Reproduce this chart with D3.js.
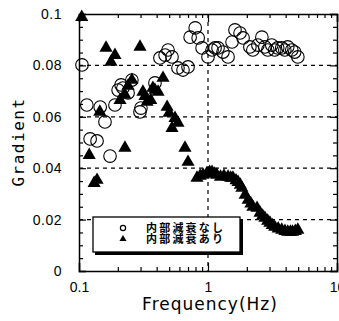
<!DOCTYPE html>
<html><head><meta charset="utf-8">
<script src="https://cdn.jsdelivr.net/npm/d3@7/dist/d3.min.js"></script>
<style>
html,body{margin:0;padding:0;background:#fff;}
svg{display:block;}
text{fill:#000;}
</style></head>
<body>
<svg id="c" width="339" height="321"></svg>
<script>
// ---- data ----
const seriesNames = ["内部減衰なし", "内部減衰あり"];
const circleFreq = [0.1055,0.115,0.122,0.138,0.146,0.159,0.174,0.190,0.201,0.212,0.219,0.240,0.257,0.297,0.302,0.388,0.424,0.465,0.490,0.526,0.585,0.640,0.700,0.727,0.796,0.839,0.900,1.00,1.075,1.134,1.196,1.306,1.430,1.536,1.619,1.772,1.870,2.112,2.227,2.437,2.616,2.759,2.908,3.12,3.29,3.47,3.73,3.94,4.15,4.46,4.70,4.97];
const circleGrad = [0.0802,0.0646,0.0514,0.0506,0.0638,0.0580,0.0447,0.0646,0.0704,0.0724,0.0712,0.0693,0.0743,0.0619,0.0634,0.0732,0.0829,0.0840,0.0860,0.0833,0.0790,0.0782,0.0794,0.0910,0.0946,0.0907,0.0868,0.0833,0.0860,0.0868,0.0868,0.0852,0.0833,0.0891,0.0938,0.0926,0.0907,0.0872,0.0860,0.0879,0.0910,0.0872,0.0860,0.0879,0.0860,0.0868,0.0868,0.0860,0.0872,0.0860,0.0852,0.0833];
const triFreq = [0.105,0.120,0.131,0.138,0.145,0.162,0.177,0.190,0.208,0.227,0.227,0.240,0.257,0.297,0.313,0.325,0.337,0.360,0.374,0.388,0.410,0.448,0.482,0.500,0.526,0.555,0.585,0.663,0.700,0.822,0.870,0.915,0.98,1.03,1.075,1.12,1.17,1.25,1.33,1.43,1.50,1.56,1.65,1.71,1.78,1.83,1.94,2.05,2.15,2.23,2.40,2.53,2.65,2.76,2.90,3.02,3.15,3.29,3.50,3.73,3.95,4.15,4.35,4.52,4.75,4.97];
const triGrad = [0.0988,0.0451,0.0342,0.0354,0.0619,0.0868,0.0813,0.0840,0.0665,0.0479,0.0685,0.0720,0.0743,0.0872,0.0697,0.0680,0.0658,0.0665,0.0712,0.0704,0.0697,0.0751,0.0638,0.0615,0.0556,0.0595,0.0576,0.0479,0.0424,0.0362,0.0370,0.0374,0.0380,0.0385,0.0385,0.0378,0.0374,0.0366,0.0370,0.0366,0.0362,0.0362,0.0352,0.0346,0.0335,0.0323,0.0296,0.0276,0.0262,0.0249,0.0245,0.0226,0.0215,0.0206,0.0195,0.0187,0.0178,0.0171,0.0165,0.0160,0.0155,0.0152,0.0152,0.0152,0.0155,0.0160];
const xTicks = [0.1, 1, 10];
const xTickLabels = ["0.1", "1", "10"];
const yTicks = [0, 0.02, 0.04, 0.06, 0.08, 0.1];
const yTickLabels = ["0", "0.02", "0.04", "0.06", "0.08", "0.1"];
const xTitle = "Frequency(Hz)";
const yTitle = "Gradient";

// ---- layout ----
const L = 79, R = 337, T = 14, B = 271;
const svg = d3.select("#c");
const x = d3.scaleLog().domain([0.1, 10]).range([L, R]);
const y = d3.scaleLinear().domain([0, 0.1]).range([B, T]);

// grid
const g = svg.append("g").attr("stroke", "#000").attr("stroke-width", 1.2).attr("stroke-dasharray", "4,4");
[0.02, 0.04, 0.06, 0.08].forEach(v => g.append("line").attr("x1", L).attr("x2", R).attr("y1", y(v)).attr("y2", y(v)));
g.append("line").attr("x1", x(1)).attr("x2", x(1)).attr("y1", T).attr("y2", B);

// minor ticks
const xMinor = [];
[0.1, 1].forEach(d => { for (let k = 2; k <= 9; k++) xMinor.push(d * k); });
const yMinor = d3.range(0, 0.1001, 0.005).filter(v => Math.abs(v / 0.02 - Math.round(v / 0.02)) > 1e-6);

function styleAxis(sel) {
  sel.select(".domain").attr("stroke", "#000").attr("stroke-width", 1.5);
  sel.selectAll(".tick line").attr("stroke", "#000").attr("stroke-width", 1.2);
}

// bottom
const axB = svg.append("g").attr("transform", `translate(0,${B})`)
  .call(d3.axisBottom(x).tickValues(xTicks).tickSize(-8).tickPadding(10).tickFormat((d, i) => xTickLabels[i]));
styleAxis(axB);
axB.selectAll("text").attr("font-family", "Liberation Sans, Arial, sans-serif").attr("font-size", 14).attr("dy", "0.8em");
svg.append("g").attr("transform", `translate(0,${B})`)
  .call(d3.axisBottom(x).tickValues(xMinor).tickSize(-4).tickFormat("")).call(styleAxis).select(".domain").remove();
// top
svg.append("g").attr("transform", `translate(0,${T})`)
  .call(d3.axisTop(x).tickValues(xTicks).tickSize(-8).tickFormat("")).call(styleAxis);
svg.append("g").attr("transform", `translate(0,${T})`)
  .call(d3.axisTop(x).tickValues(xMinor).tickSize(-4).tickFormat("")).call(styleAxis).select(".domain").remove();
// left
const axL = svg.append("g").attr("transform", `translate(${L},0)`)
  .call(d3.axisLeft(y).tickValues(yTicks).tickSize(-7).tickPadding(17).tickFormat((d, i) => yTickLabels[i]));
styleAxis(axL);
axL.selectAll("text").attr("font-family", "Liberation Sans, Arial, sans-serif").attr("font-size", 14).attr("letter-spacing", 0.5);
svg.append("g").attr("transform", `translate(${L},0)`)
  .call(d3.axisLeft(y).tickValues(yMinor).tickSize(-4).tickFormat("")).call(styleAxis).select(".domain").remove();
// right
svg.append("g").attr("transform", `translate(${R},0)`)
  .call(d3.axisRight(y).tickValues(yTicks).tickSize(-7).tickFormat("")).call(styleAxis);
svg.append("g").attr("transform", `translate(${R},0)`)
  .call(d3.axisRight(y).tickValues(yMinor).tickSize(-4).tickFormat("")).call(styleAxis).select(".domain").remove();

// data
const circles = circleFreq.map((f, i) => ({ f, v: circleGrad[i] }));
const tris = triFreq.map((f, i) => ({ f, v: triGrad[i] }));
svg.append("g").selectAll("circle").data(circles).join("circle")
  .attr("cx", d => x(d.f)).attr("cy", d => y(d.v)).attr("r", 6.3)
  .attr("fill", "none").attr("stroke", "#000").attr("stroke-width", 1.1);
const triSym = d3.symbol().type(d3.symbolTriangle).size(75);
svg.append("g").selectAll("path").data(tris).join("path")
  .attr("d", triSym).attr("transform", d => `translate(${x(d.f)},${y(d.v)})`)
  .attr("fill", "#000");

// legend
const lg = svg.append("g");
lg.append("rect").attr("x", 95).attr("y", 219).attr("width", 148).attr("height", 36).attr("fill", "#000");
lg.append("rect").attr("x", 93).attr("y", 217).attr("width", 147).attr("height", 35)
  .attr("fill", "#fff").attr("stroke", "#000").attr("stroke-width", 1.3);
lg.append("circle").attr("cx", 123).attr("cy", 228).attr("r", 2.6).attr("fill", "none").attr("stroke", "#000").attr("stroke-width", 1.2);
lg.append("path").attr("d", d3.symbol().type(d3.symbolTriangle).size(22)).attr("transform", "translate(123,239)").attr("fill", "#000");
seriesNames.forEach((s, i) => {
  lg.append("text").attr("x", 146).attr("y", 232 + i * 10.5).text(s)
    .attr("font-family", "Noto Sans CJK JP, sans-serif").attr("font-size", 11).attr("font-weight", "bold")
    .attr("letter-spacing", 2.2);
});

// titles
svg.append("text").attr("x", 210).attr("y", 310).attr("text-anchor", "middle")
  .attr("font-family", "DejaVu Sans, sans-serif").attr("font-size", 17).attr("letter-spacing", 1)
  .text(xTitle);
svg.append("text").attr("transform", "translate(24,142) rotate(-90)").attr("text-anchor", "middle")
  .attr("font-family", "DejaVu Sans Mono, monospace").attr("font-size", 16).attr("letter-spacing", 1.5)
  .text(yTitle);
</script>
</body></html>
